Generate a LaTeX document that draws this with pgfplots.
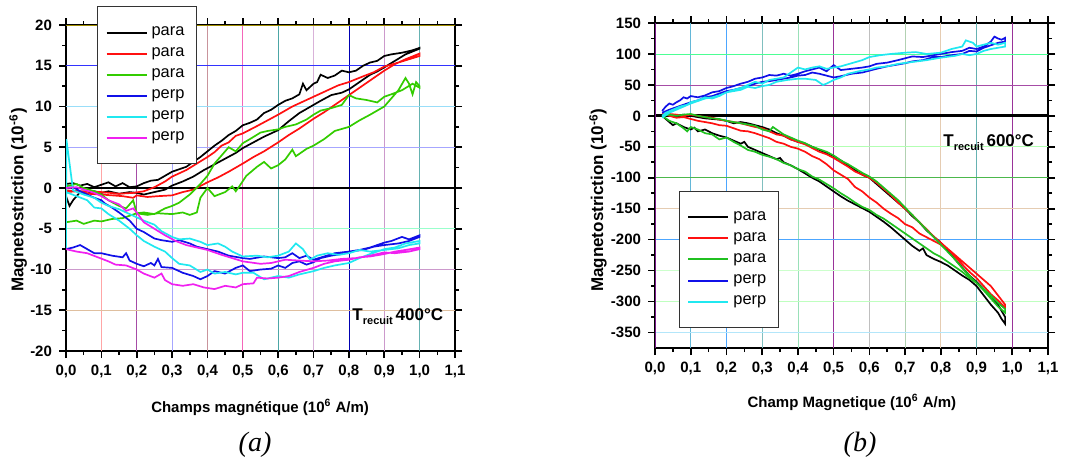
\documentclass[border=0pt]{standalone}
\usepackage{pgfplots}
\pgfplotsset{compat=1.18}
\usepackage{fontspec}
\setmainfont{Liberation Sans}
\newfontfamily\capfont{Liberation Serif}
\definecolor{cBlack}{HTML}{000000}
\definecolor{cRed}{HTML}{FF1010}
\definecolor{cGreen}{HTML}{33CC00}
\definecolor{cGreenB}{HTML}{20C020}
\definecolor{cBlue}{HTML}{1010E8}
\definecolor{cCyan}{HTML}{20E8F0}
\definecolor{cMag}{HTML}{F020F0}
\definecolor{cOlive}{HTML}{A08C00}
\definecolor{cPurp}{HTML}{7A1A8A}
\pgfplotsset{
 mystyle/.style={
  scale only axis,
  axis line style={line width=1pt},
  tick align=outside,
  major tick length=3.5pt, minor tick length=2pt,
  every tick/.style={black, line width=0.8pt},
  tick label style={font=\bfseries\fontsize{7.5}{9}\selectfont},
  /pgf/number format/assume math mode=true,
  xmin=0, xmax=1.1,
  xtick={0,0.1,0.2,0.3,0.4,0.5,0.6,0.7,0.8,0.9,1.0,1.1},
  minor x tick num=1, minor y tick num=1,
  xticklabel style={/pgf/number format/.cd, fixed, fixed zerofill, precision=1, use comma},
  xlabel style={font=\bfseries\fontsize{7.5}{9}\selectfont},
  ylabel style={font=\bfseries\fontsize{8.5}{10}\selectfont},
  legend cell align=left,
  legend style={font=\fontsize{8.2}{10}\selectfont, draw=black!80, line width=0.5pt, fill=white, inner xsep=4pt, inner ysep=8pt, row sep=0.6pt},
  legend image code/.code={\draw[#1, line width=1pt] (0pt,0pt) -- (20pt,0pt);},
  every axis plot/.append style={line width=0.85pt},
 }
}
\begin{document}
\begin{tikzpicture}
\path[use as bounding box] (0pt,0pt) rectangle (537pt,231.5pt);
% ---------------- (a) ----------------
\begin{axis}[mystyle, at={(33pt,56pt)}, anchor=south west,
  width=194.5pt, height=163pt,
  ymin=-20, ymax=20, ytick={-20,-15,-10,-5,0,5,10,15,20},
  xlabel={Champs magnétique (10\textsuperscript{6} A/m)},
  ylabel={Magnetostriction (10\textsuperscript{-6})},
  xlabel style={at={(axis description cs:0.499,-0.172)}, anchor=center},
  ylabel style={at={(axis description cs:-0.123,0.463)}, anchor=center},
  legend style={at={(axis description cs:0.08,1.058)}, anchor=north west},
]
\draw[color=red!35] (0.1,-20) -- (0.1,20);
\draw[color=violet!70] (0.2,-20) -- (0.2,20);
\draw[color=blue!35] (0.3,-20) -- (0.3,20);
\draw[color=brown!60!violet!60] (0.4,-20) -- (0.4,20);
\draw[color=magenta!60] (0.5,-20) -- (0.5,20);
\draw[color=teal!70] (0.6,-20) -- (0.6,20);
\draw[color=violet!30] (0.7,-20) -- (0.7,20);
\draw[color=blue!70!black] (0.8,-20) -- (0.8,20);
\draw[color=violet!40] (0.9,-20) -- (0.9,20);
\draw[color=teal!60] (1.0,-20) -- (1.0,20);
\draw[color=blue!80] (0,15) -- (1.1,15);
\draw[color=cyan!40] (0,10) -- (1.1,10);
\draw[color=blue!35] (0,5) -- (1.1,5);
\draw[color=green!50!cyan!40] (0,-5) -- (1.1,-5);
\draw[color=violet!40] (0,-10) -- (1.1,-10);
\draw[color=brown!50] (0,-15) -- (1.1,-15);
\draw[line width=1.4pt, black] (0,0) -- (1.1,0);
\addplot[color=cBlack] coordinates {(0,-1) (0.01,-2.2) (0.02,-1.5) (0.04,-0.5) (0.06,-0.7) (0.08,-0.4) (0.1,-0.6) (0.12,-0.4) (0.15,-0.7) (0.18,-0.5) (0.2,-0.6) (0.22,-0.8) (0.25,-0.5) (0.28,-0.2) (0.3,0.3) (0.33,0.8) (0.36,1.4) (0.39,2.2) (0.42,2.9) (0.45,3.6) (0.48,4.3) (0.5,4.9) (0.53,5.6) (0.56,6.3) (0.6,7.1) (0.63,8.2) (0.66,9.2) (0.7,10.2) (0.72,10.7) (0.75,11.4) (0.78,11.7) (0.8,12.1) (0.83,13.0) (0.86,13.9) (0.88,14.3) (0.9,14.8) (0.93,15.6) (0.96,16.4) (1.0,17.1)
 (1.0,17.2) (0.98,16.9) (0.95,16.6) (0.92,16.4) (0.9,16.2) (0.88,15.6) (0.86,15.4) (0.84,15.0) (0.82,14.4) (0.8,14.2) (0.78,14.4) (0.76,13.8) (0.74,13.5) (0.72,13.9) (0.71,13.0) (0.7,12.8) (0.68,12.0) (0.67,12.8) (0.66,11.5) (0.64,11.0) (0.62,10.7) (0.6,10.2) (0.58,9.6) (0.56,9.2) (0.54,8.4) (0.52,8.0) (0.5,7.7) (0.48,7.0) (0.46,6.5) (0.44,5.8) (0.42,5.2) (0.4,4.5) (0.38,3.8) (0.36,3.2) (0.34,2.6) (0.32,2.3) (0.3,2.0) (0.28,1.5) (0.26,1.0) (0.24,0.9) (0.22,0.6) (0.2,0.2) (0.18,0.1) (0.16,0.6) (0.14,0.2) (0.12,0.7) (0.1,0.4) (0.08,0.1) (0.06,0.5) (0.04,0.3) (0.02,0.6) (0,0.5)};
\addlegendentry{para}
\addplot[color=cRed] coordinates {(0,-0.5) (0.03,-0.4) (0.06,-0.7) (0.1,-0.8) (0.13,-0.9) (0.16,-1.0) (0.19,-1.2) (0.2,-0.9) (0.23,-1.1) (0.26,-1.0) (0.3,-0.9) (0.33,-0.5) (0.36,-0.2) (0.4,0.7) (0.43,1.3) (0.46,2.0) (0.5,3.0) (0.53,3.8) (0.56,4.5) (0.6,5.6) (0.63,6.5) (0.66,7.3) (0.7,8.5) (0.73,9.3) (0.76,10.2) (0.8,11.4) (0.83,12.3) (0.86,13.2) (0.9,14.4) (0.93,15.2) (0.96,15.8) (1.0,16.5)
 (1.0,16.2) (0.97,15.8) (0.94,15.4) (0.9,14.9) (0.87,14.2) (0.84,13.7) (0.8,13.0) (0.77,12.6) (0.74,12.0) (0.7,11.2) (0.67,10.6) (0.64,10.0) (0.6,9.0) (0.57,8.3) (0.54,7.6) (0.5,6.7) (0.48,6.4) (0.46,5.6) (0.44,5.2) (0.42,4.4) (0.4,3.8) (0.37,3.0) (0.34,2.2) (0.3,1.4) (0.28,0.8) (0.25,0.1) (0.22,-0.4) (0.19,-0.6) (0.15,-0.7) (0.1,-0.5) (0.05,-0.4) (0,-0.3)};
\addlegendentry{para}
\addplot[color=cGreen] coordinates {(0,-4.2) (0.03,-4.0) (0.05,-4.4) (0.08,-4.0) (0.1,-4.1) (0.13,-3.8) (0.16,-3.7) (0.2,-3.1) (0.23,-3.3) (0.26,-3.1) (0.3,-3.2) (0.33,-3.0) (0.35,-3.3) (0.37,-3.0) (0.38,-1.2) (0.4,0.0) (0.42,-1.0) (0.45,-0.5) (0.47,0.2) (0.48,-0.4) (0.49,0.2) (0.51,1.5) (0.54,2.6) (0.56,3.2) (0.58,2.4) (0.6,2.8) (0.62,3.5) (0.64,4.7) (0.65,3.9) (0.68,4.8) (0.7,5.2) (0.73,6.0) (0.76,7.0) (0.8,7.5) (0.83,8.3) (0.86,9.0) (0.9,10.0) (0.92,11.0) (0.94,12.0) (0.96,13.5) (0.97,12.8) (0.98,11.5) (0.99,13.0) (1.0,12.5)
 (1.0,12.3) (0.98,12.8) (0.95,12.0) (0.92,11.5) (0.9,11.2) (0.88,10.5) (0.85,10.8) (0.82,11.0) (0.8,11.4) (0.78,10.2) (0.75,9.8) (0.72,9.5) (0.7,9.0) (0.68,8.4) (0.65,7.8) (0.62,7.5) (0.6,7.2) (0.57,7.0) (0.55,6.8) (0.52,6.0) (0.5,5.5) (0.48,4.5) (0.46,5.0) (0.44,4.0) (0.42,3.0) (0.4,1.5) (0.38,0.5) (0.35,-0.8) (0.32,-1.8) (0.3,-2.2) (0.28,-2.5) (0.25,-3.2) (0.22,-3.0) (0.2,-3.1) (0.19,-1.5) (0.17,-2.5) (0.15,-2.2) (0.12,-1.5) (0.1,-0.8) (0.08,-0.4) (0.05,0) (0.03,0.5) (0,0.2)};
\addlegendentry{para}
\addplot[color=cBlue] coordinates {(0,-7.5) (0.02,-7.3) (0.04,-7.0) (0.06,-7.5) (0.08,-8.0) (0.1,-8.0) (0.13,-8.3) (0.16,-8.5) (0.17,-8.0) (0.18,-8.9) (0.2,-9.3) (0.22,-9.6) (0.24,-9.2) (0.25,-9.5) (0.26,-8.7) (0.27,-9.7) (0.3,-9.8) (0.33,-10.4) (0.36,-10.8) (0.38,-11.2) (0.4,-10.8) (0.42,-10.2) (0.45,-10.5) (0.48,-9.8) (0.5,-9.5) (0.52,-10.2) (0.55,-10.0) (0.58,-9.9) (0.6,-9.5) (0.62,-9.8) (0.64,-9.2) (0.66,-9.0) (0.68,-9.4) (0.7,-9.1) (0.72,-8.6) (0.75,-8.3) (0.78,-8.1) (0.8,-7.8) (0.83,-7.6) (0.86,-7.3) (0.9,-6.7) (0.92,-6.5) (0.95,-6.0) (0.97,-6.3) (1.0,-5.8)
 (1.0,-6.0) (0.97,-6.5) (0.94,-6.8) (0.9,-7.0) (0.87,-7.2) (0.84,-7.6) (0.8,-7.8) (0.76,-8.0) (0.73,-8.4) (0.7,-8.8) (0.68,-8.3) (0.66,-8.6) (0.64,-8.0) (0.62,-8.5) (0.6,-8.6) (0.56,-8.4) (0.52,-8.7) (0.5,-8.6) (0.46,-8.3) (0.43,-7.8) (0.4,-7.5) (0.37,-7.2) (0.35,-6.8) (0.32,-6.4) (0.3,-6.6) (0.27,-6.4) (0.25,-6.2) (0.22,-5.4) (0.2,-5.0) (0.18,-4.0) (0.15,-3.0) (0.13,-2.4) (0.11,-1.9) (0.1,-1.5) (0.08,-1.2) (0.06,-0.8) (0.04,-0.4) (0.02,0.1) (0,0)};
\addlegendentry{perp}
\addplot[color=cCyan] coordinates {(0,-0.5) (0.03,-1.0) (0.06,-1.5) (0.08,-2.4) (0.1,-2.5) (0.12,-3.2) (0.15,-4.0) (0.18,-5.0) (0.2,-5.8) (0.22,-6.5) (0.25,-7.2) (0.28,-7.8) (0.3,-8.6) (0.32,-9.3) (0.35,-9.5) (0.38,-10.3) (0.4,-10.0) (0.42,-10.5) (0.45,-10.3) (0.48,-10.6) (0.5,-10.4) (0.53,-10.4) (0.56,-11.2) (0.6,-10.8) (0.63,-11.0) (0.66,-10.6) (0.7,-10.2) (0.73,-9.8) (0.76,-9.5) (0.8,-9.2) (0.83,-8.6) (0.86,-8.1) (0.9,-7.5) (0.93,-7.3) (0.96,-6.8) (1.0,-6.5)
 (1.0,-6.8) (0.97,-7.0) (0.94,-7.4) (0.9,-7.6) (0.86,-7.8) (0.83,-7.6) (0.8,-8.0) (0.77,-8.2) (0.74,-8.0) (0.71,-8.3) (0.69,-8.8) (0.67,-7.5) (0.65,-6.8) (0.63,-7.8) (0.6,-8.3) (0.57,-8.5) (0.54,-8.3) (0.5,-8.4) (0.47,-7.8) (0.45,-7.2) (0.43,-6.8) (0.4,-7.0) (0.38,-6.6) (0.35,-6.2) (0.32,-6.3) (0.3,-6.0) (0.27,-5.3) (0.25,-4.5) (0.22,-4.0) (0.2,-3.6) (0.18,-3.2) (0.15,-2.6) (0.12,-2.2) (0.1,-1.8) (0.08,-1.2) (0.05,-0.8) (0.02,-0.3) (0.001,6.0) (0.0,-7.4)};
\addlegendentry{perp}
\addplot[color=cMag] coordinates {(0,-7.5) (0.03,-7.8) (0.06,-8.0) (0.09,-8.5) (0.12,-9.0) (0.14,-9.4) (0.17,-9.5) (0.2,-10.0) (0.22,-10.5) (0.25,-11.0) (0.27,-10.5) (0.28,-11.3) (0.3,-11.8) (0.33,-12.0) (0.36,-11.8) (0.39,-12.2) (0.42,-12.4) (0.45,-12.0) (0.48,-12.2) (0.5,-11.8) (0.53,-11.7) (0.54,-11.0) (0.57,-11.1) (0.6,-11.0) (0.63,-10.8) (0.66,-10.3) (0.7,-9.8) (0.73,-9.3) (0.76,-9.0) (0.8,-8.8) (0.83,-8.5) (0.86,-8.4) (0.9,-8.1) (0.93,-7.8) (0.96,-7.6) (1.0,-7.3)
 (1.0,-7.5) (0.97,-7.8) (0.93,-8.0) (0.9,-7.9) (0.86,-8.3) (0.82,-8.6) (0.78,-8.7) (0.74,-8.9) (0.7,-9.0) (0.66,-8.9) (0.62,-8.8) (0.58,-9.2) (0.55,-9.3) (0.5,-9.0) (0.47,-8.6) (0.44,-8.2) (0.4,-7.6) (0.37,-7.3) (0.34,-7.0) (0.31,-6.5) (0.28,-5.8) (0.25,-5.0) (0.22,-4.2) (0.2,-3.0) (0.19,-2.5) (0.17,-2.8) (0.15,-2.0) (0.12,-1.5) (0.1,-1.0) (0.08,-0.6) (0.05,-0.2) (0.03,0.1) (0,0)};
\addlegendentry{perp}
\draw[line width=1.4pt, color=cOlive] (0,20) -- (1.1,20);
\node[anchor=base west, font=\bfseries\fontsize{8.5}{10}\selectfont, inner sep=0pt] at (0.809,-16.2) {T\raisebox{-0.45ex}{\fontsize{5.5}{6}\selectfont recuit}\,400°C};
\end{axis}
% ---------------- (b) ----------------
\begin{axis}[mystyle, at={(327.5pt,57.5pt)}, anchor=south west,
  width=196.5pt, height=162.5pt,
  ymin=-375, ymax=150, ytick={-350,-300,-250,-200,-150,-100,-50,0,50,100,150},
  xlabel={Champ Magnetique (10\textsuperscript{6} A/m)},
  ylabel={Magnetostriction (10\textsuperscript{-6})},
  xlabel style={at={(axis description cs:0.501,-0.166)}, anchor=center},
  ylabel style={at={(axis description cs:-0.145,0.455)}, anchor=center},
  legend style={at={(axis description cs:0.061,0.483)}, anchor=north west},
]
\draw[color=cyan!60!teal!70] (0.1,-375) -- (0.1,150);
\draw[color=blue!50!cyan!70] (0.2,-375) -- (0.2,150);
\draw[color=teal!50] (0.3,-375) -- (0.3,150);
\draw[color=green!40!teal!40] (0.4,-375) -- (0.4,150);
\draw[color=violet!80] (0.5,-375) -- (0.5,150);
\draw[color=black!25] (0.6,-375) -- (0.6,150);
\draw[color=green!40!black!30] (0.7,-375) -- (0.7,150);
\draw[color=brown!40] (0.8,-375) -- (0.8,150);
\draw[color=teal!60] (0.9,-375) -- (0.9,150);
\draw[color=violet!80] (1.0,-375) -- (1.0,150);
\draw[color=green!60!cyan!70] (0,100) -- (1.1,100);
\draw[color=violet!70] (0,50) -- (1.1,50);
\draw[color=green!30] (0,-50) -- (1.1,-50);
\draw[color=green!60!black!70] (0,-100) -- (1.1,-100);
\draw[color=brown!40] (0,-150) -- (1.1,-150);
\draw[color=blue!50!cyan!70] (0,-200) -- (1.1,-200);
\draw[color=green!20] (0,-250) -- (1.1,-250);
\draw[color=green!25] (0,-300) -- (1.1,-300);
\draw[color=cyan!30] (0,-350) -- (1.1,-350);
\draw[line width=1.4pt, black] (0,0) -- (1.1,0);
\addplot[color=cBlack] coordinates {(0.02,0) (0.03,-5) (0.04,-10) (0.05,-15) (0.06,-12) (0.08,-18) (0.1,-22) (0.11,-19) (0.12,-25) (0.14,-22) (0.16,-28) (0.18,-32) (0.2,-35) (0.22,-40) (0.24,-45) (0.25,-42) (0.26,-50) (0.28,-55) (0.3,-60) (0.32,-65) (0.34,-70) (0.35,-68) (0.36,-75) (0.38,-80) (0.4,-86) (0.42,-93) (0.44,-100) (0.46,-106) (0.48,-114) (0.5,-122) (0.52,-130) (0.54,-137) (0.56,-143) (0.58,-149) (0.6,-155) (0.62,-163) (0.64,-171) (0.66,-180) (0.68,-190) (0.7,-200) (0.72,-210) (0.74,-218) (0.75,-214) (0.76,-225) (0.78,-231) (0.8,-236) (0.82,-242) (0.84,-250) (0.86,-258) (0.88,-265) (0.9,-275) (0.92,-290) (0.94,-305) (0.96,-318) (0.97,-328) (0.98,-336)
 (0.98,-325) (0.96,-305) (0.94,-292) (0.92,-280) (0.9,-268) (0.88,-258) (0.86,-245) (0.84,-232) (0.82,-218) (0.8,-205) (0.78,-195) (0.76,-185) (0.74,-172) (0.72,-162) (0.7,-150) (0.68,-140) (0.66,-130) (0.64,-120) (0.62,-110) (0.6,-100) (0.58,-95) (0.56,-88) (0.54,-80) (0.52,-72) (0.5,-65) (0.48,-60) (0.46,-55) (0.44,-50) (0.42,-45) (0.4,-42) (0.38,-38) (0.36,-32) (0.34,-28) (0.32,-22) (0.3,-18) (0.28,-15) (0.26,-12) (0.24,-10) (0.22,-12) (0.2,-8) (0.18,-6) (0.16,-5) (0.14,-4) (0.12,-2) (0.1,0) (0.08,2) (0.06,0) (0.04,2) (0.02,0)};
\addlegendentry{para}
\addplot[color=cRed] coordinates {(0.02,5) (0.04,0) (0.06,-3) (0.08,-2) (0.1,-5) (0.12,-8) (0.14,-10) (0.16,-12) (0.18,-15) (0.2,-16) (0.22,-20) (0.24,-24) (0.26,-25) (0.28,-28) (0.3,-32) (0.32,-36) (0.34,-42) (0.36,-45) (0.38,-50) (0.4,-53) (0.42,-58) (0.44,-65) (0.46,-70) (0.48,-78) (0.5,-88) (0.52,-95) (0.54,-102) (0.56,-115) (0.58,-122) (0.6,-132) (0.62,-140) (0.64,-150) (0.66,-158) (0.68,-165) (0.7,-175) (0.72,-180) (0.74,-190) (0.76,-196) (0.78,-202) (0.8,-208) (0.82,-215) (0.84,-225) (0.86,-235) (0.88,-245) (0.9,-255) (0.92,-265) (0.94,-275) (0.96,-290) (0.98,-305)
 (0.98,-310) (0.96,-298) (0.94,-288) (0.92,-275) (0.9,-262) (0.88,-252) (0.86,-240) (0.84,-228) (0.82,-215) (0.8,-205) (0.78,-195) (0.76,-183) (0.74,-172) (0.72,-160) (0.7,-150) (0.68,-140) (0.66,-128) (0.64,-118) (0.62,-108) (0.6,-100) (0.58,-95) (0.56,-90) (0.54,-82) (0.52,-75) (0.5,-68) (0.48,-62) (0.46,-58) (0.44,-52) (0.42,-46) (0.4,-42) (0.38,-38) (0.36,-32) (0.34,-30) (0.32,-25) (0.3,-20) (0.28,-18) (0.26,-15) (0.24,-12) (0.22,-10) (0.2,-8) (0.18,-6) (0.16,-3) (0.14,-2) (0.12,0) (0.1,2) (0.08,0) (0.06,2) (0.04,3) (0.02,5)};
\addlegendentry{para}
\addplot[color=cGreenB] coordinates {(0.02,0) (0.04,-8) (0.06,-12) (0.08,-20) (0.09,-25) (0.1,-18) (0.12,-22) (0.14,-28) (0.16,-30) (0.18,-38) (0.2,-35) (0.22,-42) (0.24,-48) (0.26,-55) (0.28,-58) (0.3,-63) (0.32,-66) (0.34,-70) (0.36,-76) (0.38,-80) (0.4,-86) (0.42,-90) (0.44,-98) (0.46,-103) (0.48,-110) (0.5,-117) (0.52,-125) (0.54,-132) (0.56,-140) (0.58,-147) (0.6,-152) (0.62,-160) (0.64,-166) (0.66,-174) (0.68,-182) (0.7,-190) (0.72,-198) (0.74,-206) (0.76,-214) (0.78,-222) (0.8,-228) (0.82,-236) (0.84,-244) (0.86,-252) (0.88,-262) (0.9,-270) (0.92,-282) (0.94,-295) (0.96,-308) (0.98,-318)
 (0.98,-312) (0.96,-302) (0.94,-290) (0.92,-280) (0.9,-270) (0.88,-258) (0.86,-246) (0.84,-232) (0.82,-220) (0.8,-208) (0.78,-196) (0.76,-184) (0.74,-172) (0.72,-160) (0.7,-148) (0.68,-136) (0.66,-126) (0.64,-116) (0.62,-106) (0.6,-98) (0.58,-92) (0.56,-85) (0.54,-78) (0.52,-72) (0.5,-64) (0.48,-58) (0.46,-54) (0.44,-50) (0.42,-44) (0.4,-40) (0.38,-35) (0.36,-30) (0.34,-22) (0.33,-18) (0.32,-25) (0.3,-22) (0.28,-16) (0.26,-14) (0.24,-12) (0.22,-10) (0.2,-8) (0.18,-5) (0.16,-4) (0.14,-2) (0.12,0) (0.1,3) (0.08,2) (0.06,0) (0.04,2) (0.02,0)};
\addlegendentry{para}
\addplot[color=cBlue] coordinates {(0.02,8) (0.03,15) (0.04,20) (0.05,18) (0.06,22) (0.07,25) (0.08,30) (0.09,28) (0.1,32) (0.12,30) (0.14,33) (0.16,38) (0.18,40) (0.2,45) (0.22,48) (0.24,52) (0.26,55) (0.28,60) (0.3,62) (0.32,66) (0.34,65) (0.36,68) (0.38,65) (0.4,68) (0.42,72) (0.44,75) (0.46,78) (0.48,72) (0.5,82) (0.52,74) (0.55,76) (0.58,78) (0.6,80) (0.62,84) (0.65,86) (0.68,90) (0.7,93) (0.72,96) (0.75,95) (0.78,98) (0.8,100) (0.83,103) (0.86,105) (0.88,110) (0.9,108) (0.92,112) (0.94,120) (0.95,128) (0.96,125) (0.97,123) (0.98,126)
 (0.98,120) (0.96,118) (0.94,114) (0.92,110) (0.9,104) (0.88,105) (0.86,100) (0.83,98) (0.8,95) (0.78,95) (0.75,90) (0.72,88) (0.7,85) (0.68,83) (0.65,80) (0.62,76) (0.6,73) (0.58,70) (0.55,68) (0.52,64) (0.5,62) (0.48,65) (0.46,68) (0.44,70) (0.42,66) (0.4,65) (0.38,62) (0.36,60) (0.34,58) (0.32,56) (0.3,55) (0.28,52) (0.26,48) (0.24,45) (0.22,42) (0.2,40) (0.18,36) (0.16,32) (0.14,30) (0.12,25) (0.1,22) (0.08,18) (0.06,14) (0.04,10) (0.02,5)};
\addlegendentry{perp}
\addplot[color=cCyan] coordinates {(0.02,0) (0.03,5) (0.05,10) (0.07,15) (0.09,18) (0.1,22) (0.12,25) (0.14,30) (0.16,28) (0.18,32) (0.2,38) (0.22,42) (0.24,45) (0.26,50) (0.28,55) (0.3,52) (0.32,58) (0.34,60) (0.36,62) (0.38,70) (0.4,78) (0.42,75) (0.44,78) (0.46,80) (0.48,76) (0.5,78) (0.52,80) (0.55,85) (0.58,90) (0.6,95) (0.63,98) (0.66,100) (0.7,102) (0.73,103) (0.76,100) (0.8,102) (0.83,108) (0.86,112) (0.87,122) (0.89,118) (0.9,112) (0.92,115) (0.94,118) (0.96,115) (0.98,118)
 (0.98,112) (0.96,110) (0.94,108) (0.92,105) (0.9,100) (0.88,98) (0.86,100) (0.84,97) (0.8,94) (0.76,90) (0.72,87) (0.68,84) (0.65,80) (0.62,78) (0.6,75) (0.57,72) (0.54,68) (0.52,62) (0.5,58) (0.48,52) (0.47,50) (0.45,58) (0.42,60) (0.4,60) (0.37,58) (0.34,55) (0.32,50) (0.3,48) (0.28,45) (0.26,47) (0.24,42) (0.22,40) (0.2,38) (0.18,33) (0.16,30) (0.14,28) (0.12,24) (0.1,20) (0.08,15) (0.06,10) (0.04,5) (0.02,-3)};
\addlegendentry{perp}
\draw[line width=1pt, color=cPurp] (0,-375) -- (0,150);
\node[anchor=base west, font=\bfseries\fontsize{8.5}{10}\selectfont, inner sep=0pt] at (0.806,-50) {T\raisebox{-0.45ex}{\fontsize{5.5}{6}\selectfont recuit}\,600°C};
\end{axis}
\node[font=\capfont\itshape\fontsize{14}{16}\selectfont] at (127.5pt,9pt) {(a)};
\node[font=\capfont\itshape\fontsize{14}{16}\selectfont] at (430pt,9pt) {(b)};
\end{tikzpicture}
\end{document}
